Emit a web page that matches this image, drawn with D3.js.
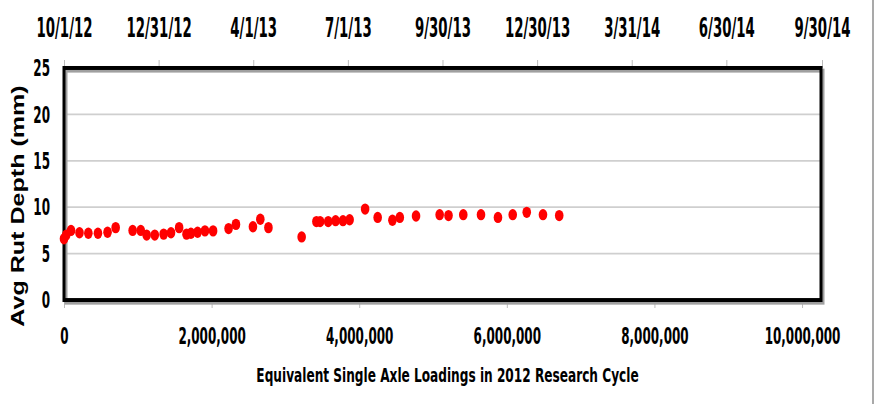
<!DOCTYPE html>
<html>
<head>
<meta charset="utf-8">
<title>Avg Rut Depth vs ESAL</title>
<script src="https://cdn.jsdelivr.net/npm/d3@7"></script>
<style>
html, body { margin: 0; padding: 0; background: #fff; }
svg { display: block; }
.lbl { font-family: "Liberation Sans Narrow", "DejaVu Sans Condensed", sans-serif; font-weight: bold; fill: #000; }
.ytitle { font-family: "Liberation Sans", Arial, sans-serif; font-weight: bold; fill: #000; }
</style>
</head>
<body>
<svg id="chart" width="875" height="404"></svg>
<script>
// values
var esal = [0, 30000, 95000, 210000, 330000, 460000, 590000, 700000, 930000, 1040000,
            1120000, 1230000, 1350000, 1450000, 1560000, 1660000, 1720000, 1810000, 1910000, 2020000,
            2230000, 2330000, 2560000, 2660000, 2770000, 3220000, 3420000, 3470000, 3580000, 3680000,
            3780000, 3870000, 4080000, 4250000, 4450000, 4550000, 4770000, 5090000, 5210000, 5410000,
            5650000, 5880000, 6080000, 6270000, 6490000, 6710000];
var rutDepth = [6.6, 7.0, 7.5, 7.25, 7.2, 7.2, 7.3, 7.8, 7.5, 7.5,
                7.0, 7.0, 7.1, 7.25, 7.8, 7.1, 7.2, 7.3, 7.45, 7.45,
                7.7, 8.15, 7.9, 8.7, 7.8, 6.8, 8.45, 8.45, 8.45, 8.55,
                8.55, 8.65, 9.8, 8.9, 8.6, 8.9, 9.05, 9.2, 9.1, 9.2,
                9.2, 8.9, 9.2, 9.45, 9.2, 9.1];
var esalTicks = [0, 2000000, 4000000, 6000000, 8000000, 10000000];
var depthTicks = [0, 5, 10, 15, 20, 25];
var dateTicks = ["10/1/12", "12/31/12", "4/1/13", "7/1/13", "9/30/13", "12/30/13", "3/31/14", "6/30/14", "9/30/14"];

// the source picture is stretched vertically, so draw in a squashed viewBox
var stretch = 1.32;
var W = 875, H = 404 / stretch;
var squeeze = 0.74; // labels in the source are a narrow face
var svg = d3.select("#chart")
    .attr("viewBox", "0 0 " + W + " " + H)
    .attr("preserveAspectRatio", "none");

var plotL = 64, plotR = 821, plotT = 51.5, plotB = 227.3;
var parseDate = d3.timeParse("%m/%d/%y");

var x = d3.scaleLinear().domain([0, 10257000]).range([plotL, plotR]);
var y = d3.scaleLinear().domain([0, 25]).range([plotB, plotT]);
var t = d3.scaleTime().domain([parseDate(dateTicks[0]), parseDate(dateTicks[dateTicks.length - 1])]).range([plotL, plotR + 1]);

// gridlines
svg.append("g").selectAll("line")
    .data(depthTicks.slice(1, -1))
  .enter().append("line")
    .attr("x1", plotL).attr("x2", plotR)
    .attr("y1", function(d) { return y(d); })
    .attr("y2", function(d) { return y(d); })
    .attr("stroke", "#cfcfcf").attr("stroke-width", 1.3);

// top date axis
var gTop = svg.append("g")
    .attr("transform", "translate(0," + plotT + ")")
    .call(d3.axisTop(t)
        .tickValues(dateTicks.map(parseDate))
        .tickFormat(function(d, i) { return dateTicks[i]; })
        .tickSize(6).tickPadding(17.5));
gTop.select(".domain").remove();
gTop.selectAll(".tick line").attr("stroke", "#bbb");
gTop.selectAll(".tick text").attr("class", "lbl").style("font-size", "20px")
    .attr("transform", "scale(" + squeeze + ",1)");

// bottom ESAL axis
var gBot = svg.append("g")
    .attr("transform", "translate(0," + plotB + ")")
    .call(d3.axisBottom(x)
        .tickValues(esalTicks)
        .tickFormat(d3.format(","))
        .tickSize(6).tickPadding(14.4));
gBot.select(".domain").remove();
gBot.selectAll(".tick line").attr("stroke", "#bbb");
gBot.selectAll(".tick text").attr("class", "lbl").style("font-size", "18px")
    .attr("transform", "scale(" + squeeze + ",1)");

// left depth axis
var gLeft = svg.append("g")
    .attr("transform", "translate(" + plotL + ",0)")
    .call(d3.axisLeft(y).tickValues(depthTicks).tickSize(0).tickPadding(14));
gLeft.select(".domain").remove();
gLeft.selectAll(".tick text").attr("class", "lbl").style("font-size", "18px")
    .attr("x", -14 / squeeze)
    .attr("transform", "scale(" + squeeze + ",1)");

// plot frame with a light shadow
svg.append("rect")
    .attr("x", plotL + 2).attr("y", plotT + 2)
    .attr("width", plotR - plotL).attr("height", plotB - plotT)
    .attr("fill", "none").attr("stroke", "#a0a0a0").attr("stroke-width", 3);
svg.append("rect")
    .attr("x", plotL).attr("y", plotT)
    .attr("width", plotR - plotL).attr("height", plotB - plotT)
    .attr("fill", "none").attr("stroke", "#000").attr("stroke-width", 3);

// points
svg.append("g").selectAll("circle")
    .data(esal)
  .enter().append("circle")
    .attr("cx", function(d) { return x(d); })
    .attr("cy", function(d, i) { return y(rutDepth[i]); })
    .attr("r", 4.3)
    .attr("fill", "#ff0000");

// titles
var titleX = (plotL + plotR) / 2 + 5, titleSqueeze = 0.9;
svg.append("text")
    .attr("class", "lbl")
    .attr("x", titleX / titleSqueeze).attr("y", 289.4)
    .attr("transform", "scale(" + titleSqueeze + ",1)")
    .attr("text-anchor", "middle")
    .style("font-size", "15px")
    .text("Equivalent Single Axle Loadings in 2012 Research Cycle");

svg.append("text")
    .attr("class", "ytitle")
    .attr("transform", "translate(24," + (206 / stretch) + ") rotate(-90)")
    .attr("text-anchor", "middle")
    .style("font-size", "19px")
    .text("Avg Rut Depth (mm)");

// picture edge line on the right
svg.append("line")
    .attr("x1", 873).attr("x2", 873).attr("y1", 0).attr("y2", H)
    .attr("stroke", "#555").attr("stroke-width", 1);
</script>
</body>
</html>
